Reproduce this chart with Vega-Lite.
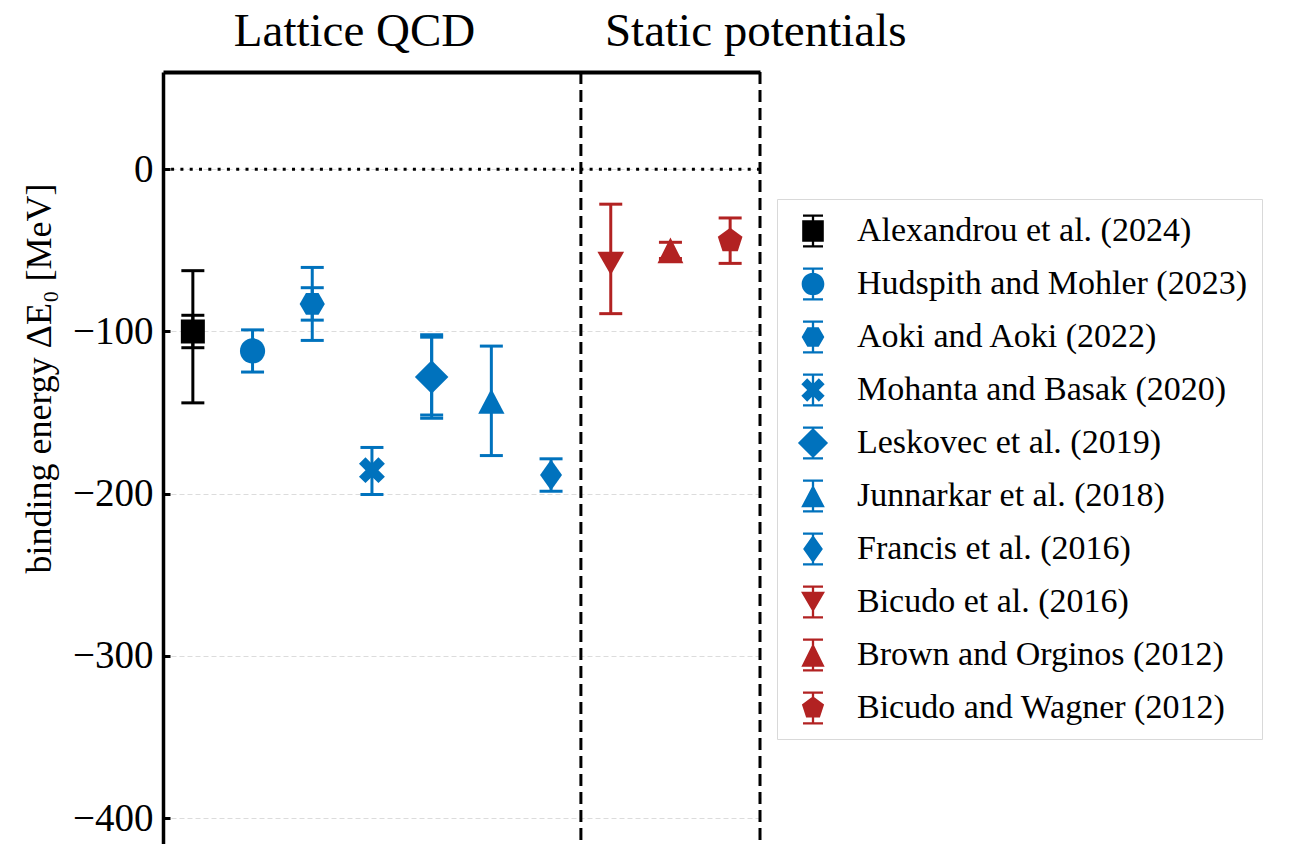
{
  "$schema": "https://vega.github.io/schema/vega-lite/v6.json",
  "width": 597,
  "height": 772,
  "autosize": {"type": "none"},
  "padding": {"left": 163, "top": 72, "right": 531, "bottom": 0},
  "background": "white",
  "config": {
    "view": {"stroke": null},
    "font": "Liberation Serif",
    "axisX": {
      "ticks": false,
      "grid": false,
      "labelFontSize": 47,
      "labelColor": "black",
      "labelPadding": 17,
      "labelLimit": 1000,
      "labelFlush": false,
      "labelOverlap": false,
      "domainColor": "black",
      "domainWidth": 4
    },
    "axisY": {
      "titleFontSize": 36,
      "titleFontWeight": "normal",
      "titleColor": "black",
      "titleAngle": -90,
      "titleX": -113,
      "titleY": 306,
      "titleBaseline": "alphabetic",
      "titleAlign": "center",
      "labelFontSize": 39,
      "labelColor": "black",
      "labelPadding": 17,
      "tickSize": -7,
      "tickWidth": 3,
      "tickColor": "black",
      "domainColor": "black",
      "domainWidth": 3.5,
      "grid": true,
      "gridColor": "#dcdcdc",
      "gridDash": [5, 3],
      "gridWidth": 1
    }
  },
  "resolve": {"scale": {"color": "independent", "shape": "independent"}},
  "datasets": {
    "estimates": [
      {"study": "Alexandrou et al. (2024)", "x": 0, "y": -100},
      {"study": "Hudspith and Mohler (2023)", "x": 1, "y": -112},
      {"study": "Aoki and Aoki (2022)", "x": 2, "y": -83},
      {"study": "Mohanta and Basak (2020)", "x": 3, "y": -185.5},
      {"study": "Leskovec et al. (2019)", "x": 4, "y": -128},
      {"study": "Junnarkar et al. (2018)", "x": 5, "y": -143},
      {"study": "Francis et al. (2016)", "x": 6, "y": -188.5},
      {"study": "Bicudo et al. (2016)", "x": 7, "y": -58},
      {"study": "Brown and Orginos (2012)", "x": 8, "y": -50},
      {"study": "Bicudo and Wagner (2012)", "x": 9, "y": -44}
    ],
    "errors": [
      {"group": "reference", "x": 0, "lo": -110, "hi": -90},
      {"group": "reference", "x": 0, "lo": -144, "hi": -62.5},
      {"group": "lattice", "x": 1, "lo": -125, "hi": -99},
      {"group": "lattice", "x": 2, "lo": -93, "hi": -73},
      {"group": "lattice", "x": 2, "lo": -105.5, "hi": -60.5},
      {"group": "lattice", "x": 3, "lo": -200.5, "hi": -171.5},
      {"group": "lattice", "x": 4, "lo": -151.5, "hi": -103.5},
      {"group": "lattice", "x": 4, "lo": -153.5, "hi": -102},
      {"group": "lattice", "x": 5, "lo": -176.5, "hi": -109},
      {"group": "lattice", "x": 6, "lo": -198.5, "hi": -178.5},
      {"group": "static", "x": 7, "lo": -89, "hi": -21.5},
      {"group": "static", "x": 8, "lo": -55, "hi": -45},
      {"group": "static", "x": 9, "lo": -58, "hi": -30}
    ]
  },
  "layer": [
    {
      "data": {"values": [{}]},
      "mark": {"type": "rule", "color": "black", "strokeWidth": 3, "strokeDash": [3, 6.3]},
      "encoding": {
        "y": {"datum": 0, "type": "quantitative", "title": "binding energy ΔE₀ [MeV]",
              "scale": {"domain": [-416, 60], "nice": false, "zero": false},
              "axis": {"values": [0, -100, -200, -300, -400], "format": "d"}}
      }
    },
    {
      "data": {"values": [{}]},
      "mark": {"type": "rule", "color": "black", "strokeWidth": 3, "strokeDash": [12, 6]},
      "encoding": {
        "x": {"datum": 6.5, "type": "quantitative", "title": null,
              "scale": {"domain": [-0.5, 9.5], "nice": false, "zero": false},
              "axis": {"orient": "top", "values": [2.7, 9.42], "labelExpr": "datum.value < 5 ? 'Lattice QCD' : 'Static potentials'"}}
      }
    },
    {
      "data": {"values": [{}]},
      "mark": {"type": "rule", "color": "black", "strokeWidth": 3, "strokeDash": [12, 6]},
      "encoding": {
        "x": {"datum": 9.5, "type": "quantitative", "title": null,
              "scale": {"domain": [-0.5, 9.5], "nice": false, "zero": false},
              "axis": {"orient": "top", "values": [2.7, 9.42], "labelExpr": "datum.value < 5 ? 'Lattice QCD' : 'Static potentials'"}}
      }
    },
    {
      "data": {"name": "errors"},
      "mark": {"type": "rule", "strokeWidth": 3},
      "encoding": {
        "x": {"field": "x", "type": "quantitative", "title": null,
              "scale": {"domain": [-0.5, 9.5], "nice": false, "zero": false},
              "axis": {"orient": "top", "values": [2.7, 9.42], "labelExpr": "datum.value < 5 ? 'Lattice QCD' : 'Static potentials'"}},
        "y": {"field": "lo", "type": "quantitative", "title": "binding energy ΔE₀ [MeV]",
              "scale": {"domain": [-416, 60], "nice": false, "zero": false},
              "axis": {"values": [0, -100, -200, -300, -400], "format": "d"}},
        "y2": {"field": "hi"},
        "stroke": {
          "field": "group", "type": "nominal", "legend": null,
          "scale": {"domain": ["reference", "lattice", "static"], "range": ["#000000", "#0072bd", "#b22222"]}
        }
      }
    },
    {
      "data": {"name": "errors"},
      "mark": {"type": "tick", "orient": "horizontal", "size": 23, "thickness": 3, "opacity": 1},
      "encoding": {
        "x": {"field": "x", "type": "quantitative", "title": null,
              "scale": {"domain": [-0.5, 9.5], "nice": false, "zero": false},
              "axis": {"orient": "top", "values": [2.7, 9.42], "labelExpr": "datum.value < 5 ? 'Lattice QCD' : 'Static potentials'"}},
        "y": {"field": "lo", "type": "quantitative", "title": "binding energy ΔE₀ [MeV]",
              "scale": {"domain": [-416, 60], "nice": false, "zero": false},
              "axis": {"values": [0, -100, -200, -300, -400], "format": "d"}},
        "fill": {
          "field": "group", "type": "nominal", "legend": null,
          "scale": {"domain": ["reference", "lattice", "static"], "range": ["#000000", "#0072bd", "#b22222"]}
        }
      }
    },
    {
      "data": {"name": "errors"},
      "mark": {"type": "tick", "orient": "horizontal", "size": 23, "thickness": 3, "opacity": 1},
      "encoding": {
        "x": {"field": "x", "type": "quantitative", "title": null,
              "scale": {"domain": [-0.5, 9.5], "nice": false, "zero": false},
              "axis": {"orient": "top", "values": [2.7, 9.42], "labelExpr": "datum.value < 5 ? 'Lattice QCD' : 'Static potentials'"}},
        "y": {"field": "hi", "type": "quantitative", "title": "binding energy ΔE₀ [MeV]",
              "scale": {"domain": [-416, 60], "nice": false, "zero": false},
              "axis": {"values": [0, -100, -200, -300, -400], "format": "d"}},
        "fill": {
          "field": "group", "type": "nominal", "legend": null,
          "scale": {"domain": ["reference", "lattice", "static"], "range": ["#000000", "#0072bd", "#b22222"]}
        }
      }
    },
    {
      "data": {"name": "estimates"},
      "mark": {"type": "point", "filled": true, "opacity": 1, "size": 1296, "strokeWidth": 0},
      "encoding": {
        "x": {"field": "x", "type": "quantitative", "title": null,
              "scale": {"domain": [-0.5, 9.5], "nice": false, "zero": false},
              "axis": {"orient": "top", "values": [2.7, 9.42], "labelExpr": "datum.value < 5 ? 'Lattice QCD' : 'Static potentials'"}},
        "y": {"field": "y", "type": "quantitative", "title": "binding energy ΔE₀ [MeV]",
              "scale": {"domain": [-416, 60], "nice": false, "zero": false},
              "axis": {"values": [0, -100, -200, -300, -400], "format": "d"}},
        "color": {
          "field": "study", "type": "nominal", "legend": null,
          "scale": {
            "domain": ["Alexandrou et al. (2024)", "Hudspith and Mohler (2023)", "Aoki and Aoki (2022)", "Mohanta and Basak (2020)", "Leskovec et al. (2019)", "Junnarkar et al. (2018)", "Francis et al. (2016)", "Bicudo et al. (2016)", "Brown and Orginos (2012)", "Bicudo and Wagner (2012)"],
            "range": ["#000000", "#0072bd", "#0072bd", "#0072bd", "#0072bd", "#0072bd", "#0072bd", "#b22222", "#b22222", "#b22222"]
          }
        },
        "shape": {
          "field": "study", "type": "nominal", "legend": null,
          "scale": {
            "domain": ["Alexandrou et al. (2024)", "Hudspith and Mohler (2023)", "Aoki and Aoki (2022)", "Mohanta and Basak (2020)", "Leskovec et al. (2019)", "Junnarkar et al. (2018)", "Francis et al. (2016)", "Bicudo et al. (2016)", "Brown and Orginos (2012)", "Bicudo and Wagner (2012)"],
            "range": [
              "M-0.667,-0.667L0.667,-0.667L0.667,0.667L-0.667,0.667Z",
              "M-0.7,0A0.7,0.7,0,1,0,0.7,0A0.7,0.7,0,1,0,-0.7,0Z",
              "M-0.7,0L-0.35,-0.606L0.35,-0.606L0.7,0L0.35,0.606L-0.35,0.606Z",
              "M0.36,-0.72L0,-0.36L-0.36,-0.72L-0.72,-0.36L-0.36,0L-0.72,0.36L-0.36,0.72L0,0.36L0.36,0.72L0.72,0.36L0.36,0L0.72,-0.36Z",
              "M0,-0.93L0.93,0L0,0.93L-0.93,0Z",
              "M0,-0.7L0.73,0.7L-0.73,0.7Z",
              "M0,-0.86L0.61,0L0,0.86L-0.61,0Z",
              "M-0.74,-0.64L0.74,-0.64L0,0.64Z",
              "M0,-0.72L0.72,0.72L-0.72,0.72Z",
              "M0,-0.72L0.685,-0.223L0.423,0.583L-0.423,0.583L-0.685,-0.223Z"
            ]
          }
        }
      }
    },
    {
      "data": {"name": "estimates"},
      "transform": [{"filter": "false"}],
      "mark": {"type": "point", "filled": true, "opacity": 1, "size": 1296, "strokeWidth": 0},
      "encoding": {
        "x": {"field": "x", "type": "quantitative", "title": null,
              "scale": {"domain": [-0.5, 9.5], "nice": false, "zero": false},
              "axis": {"orient": "top", "values": [2.7, 9.42], "labelExpr": "datum.value < 5 ? 'Lattice QCD' : 'Static potentials'"}},
        "y": {"field": "y", "type": "quantitative", "title": "binding energy ΔE₀ [MeV]",
              "scale": {"domain": [-416, 60], "nice": false, "zero": false},
              "axis": {"values": [0, -100, -200, -300, -400], "format": "d"}},
        "color": {
          "field": "study", "type": "nominal",
          "scale": {
            "domain": ["Alexandrou et al. (2024)", "Hudspith and Mohler (2023)", "Aoki and Aoki (2022)", "Mohanta and Basak (2020)", "Leskovec et al. (2019)", "Junnarkar et al. (2018)", "Francis et al. (2016)", "Bicudo et al. (2016)", "Brown and Orginos (2012)", "Bicudo and Wagner (2012)"],
            "range": ["#000000", "#0072bd", "#0072bd", "#0072bd", "#0072bd", "#0072bd", "#0072bd", "#b22222", "#b22222", "#b22222"]
          },
          "legend": {
            "title": null,
            "orient": "none",
            "legendX": 614,
            "legendY": 127,
            "labelFontSize": 34,
            "labelColor": "black",
            "labelLimit": 600,
            "symbolSize": 1296,
            "symbolStrokeWidth": 0,
            "symbolOpacity": 1,
            "padding": 14,
            "rowPadding": 18,
            "symbolOffset": 4,
            "labelOffset": 26,
            "strokeColor": "#d9d9d9",
            "fillColor": "white"
          }
        },
        "shape": {
          "field": "study", "type": "nominal",
          "legend": {"title": null},
          "scale": {
            "domain": ["Alexandrou et al. (2024)", "Hudspith and Mohler (2023)", "Aoki and Aoki (2022)", "Mohanta and Basak (2020)", "Leskovec et al. (2019)", "Junnarkar et al. (2018)", "Francis et al. (2016)", "Bicudo et al. (2016)", "Brown and Orginos (2012)", "Bicudo and Wagner (2012)"],
            "range": [
              "M-0.6,-0.6H0.6V0.6H-0.6Z M-0.064,-0.917H0.064V0.917H-0.064Z M-0.556,-0.917H0.556V-0.789H-0.556Z M-0.556,0.789H0.556V0.917H-0.556Z",
              "M-0.63,0A0.63,0.63,0,1,1,0.63,0A0.63,0.63,0,1,1,-0.63,0Z M-0.064,-0.917H0.064V0.917H-0.064Z M-0.556,-0.917H0.556V-0.789H-0.556Z M-0.556,0.789H0.556V0.917H-0.556Z",
              "M-0.63,0L-0.315,-0.546L0.315,-0.546L0.63,0L0.315,0.546L-0.315,0.546Z M-0.064,-0.917H0.064V0.917H-0.064Z M-0.556,-0.917H0.556V-0.789H-0.556Z M-0.556,0.789H0.556V0.917H-0.556Z",
              "M0.648,-0.324L0.324,0L0.648,0.324L0.324,0.648L0,0.324L-0.324,0.648L-0.648,0.324L-0.324,0L-0.648,-0.324L-0.324,-0.648L0,-0.324L0.324,-0.648Z M-0.064,-0.917H0.064V0.917H-0.064Z M-0.556,-0.917H0.556V-0.789H-0.556Z M-0.556,0.789H0.556V0.917H-0.556Z",
              "M0,-0.837L0.837,0L0,0.837L-0.837,0Z M-0.064,-0.917H0.064V0.917H-0.064Z M-0.556,-0.917H0.556V-0.789H-0.556Z M-0.556,0.789H0.556V0.917H-0.556Z",
              "M0,-0.63L0.657,0.63L-0.657,0.63Z M-0.064,-0.917H0.064V0.917H-0.064Z M-0.556,-0.917H0.556V-0.789H-0.556Z M-0.556,0.789H0.556V0.917H-0.556Z",
              "M0,-0.774L0.549,0L0,0.774L-0.549,0Z M-0.064,-0.917H0.064V0.917H-0.064Z M-0.556,-0.917H0.556V-0.789H-0.556Z M-0.556,0.789H0.556V0.917H-0.556Z",
              "M-0.666,-0.576L0.666,-0.576L0,0.576Z M-0.064,-0.917H0.064V0.917H-0.064Z M-0.556,-0.917H0.556V-0.789H-0.556Z M-0.556,0.789H0.556V0.917H-0.556Z",
              "M0,-0.648L0.648,0.648L-0.648,0.648Z M-0.064,-0.917H0.064V0.917H-0.064Z M-0.556,-0.917H0.556V-0.789H-0.556Z M-0.556,0.789H0.556V0.917H-0.556Z",
              "M0,-0.648L0.617,-0.2L0.381,0.525L-0.381,0.525L-0.617,-0.2Z M-0.064,-0.917H0.064V0.917H-0.064Z M-0.556,-0.917H0.556V-0.789H-0.556Z M-0.556,0.789H0.556V0.917H-0.556Z"
            ]
          }
        }
      }
    }
  ]
}
